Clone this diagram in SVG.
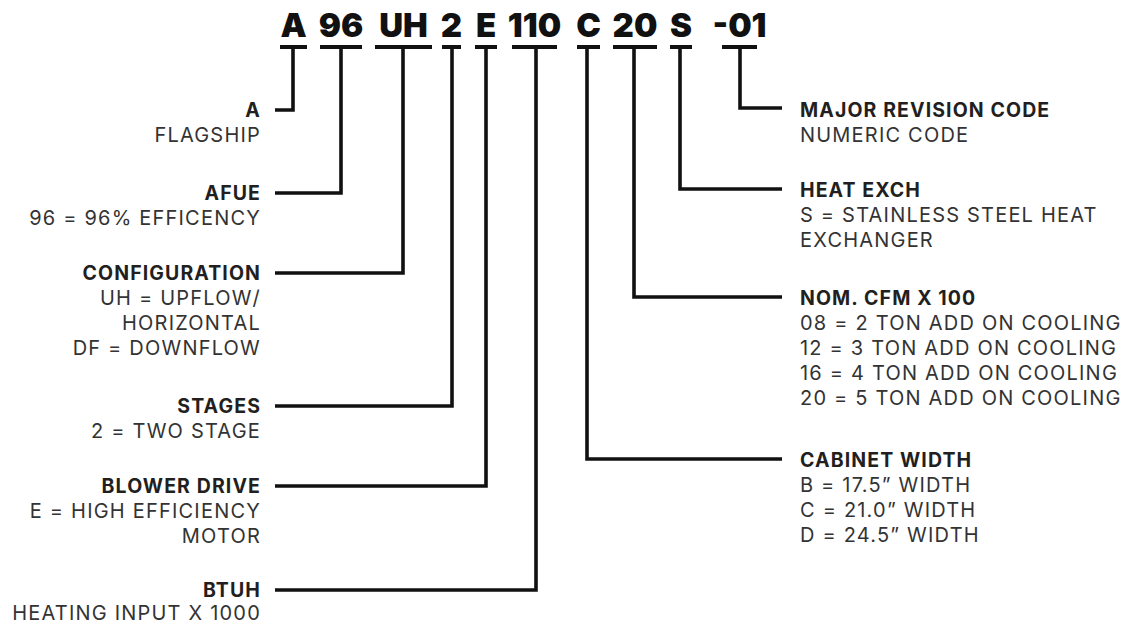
<svg xmlns="http://www.w3.org/2000/svg" width="1125" height="624" viewBox="0 0 1125 624">
<style>
  .code { font-family: Inter, "Liberation Sans", sans-serif; font-weight: 900; font-size: 33px; fill: #111; text-anchor: middle; }
  .h { font-family: Inter, "Liberation Sans", sans-serif; font-weight: 700; font-size: 19.5px; letter-spacing: 1.1px; fill: #231f20; }
  .t { font-family: Inter, "Liberation Sans", sans-serif; font-weight: 400; font-size: 20px; letter-spacing: 1.2px; fill: #333; }
  .l text { text-anchor: end; }
  .r text { text-anchor: start; }
  .conn { fill: none; stroke: #111; stroke-width: 3.6; stroke-linejoin: miter; stroke-linecap: butt; }
  .ul { fill: #111; }
</style>
<rect width="1125" height="624" fill="#ffffff"/>

<g id="code">
  <text class="code" x="293.5" y="37">A</text>
  <text class="code" x="341" y="37">96</text>
  <text class="code" x="403.5" y="37">UH</text>
  <text class="code" x="451.5" y="37">2</text>
  <text class="code" x="486" y="37">E</text>
  <text class="code" x="534.5" y="37">110</text>
  <text class="code" x="588.5" y="37">C</text>
  <text class="code" x="635" y="37">20</text>
  <text class="code" x="681" y="37">S</text>
  <text class="code" x="739.5" y="37">-01</text>
  <rect class="ul" x="280" y="45" width="27" height="4"/>
  <rect class="ul" x="320" y="45" width="42" height="4"/>
  <rect class="ul" x="375" y="45" width="57" height="4"/>
  <rect class="ul" x="442" y="45" width="19" height="4"/>
  <rect class="ul" x="475" y="45" width="22" height="4"/>
  <rect class="ul" x="512" y="45" width="45" height="4"/>
  <rect class="ul" x="577" y="45" width="23" height="4"/>
  <rect class="ul" x="613" y="45" width="44" height="4"/>
  <rect class="ul" x="670" y="45" width="22" height="4"/>
  <rect class="ul" x="722" y="45" width="35" height="4"/>
</g>

<g id="connectors">
  <path class="conn" d="M293 47 V110 H275"/>
  <path class="conn" d="M341 47 V193 H275"/>
  <path class="conn" d="M403 47 V273 H275"/>
  <path class="conn" d="M452 47 V406 H275"/>
  <path class="conn" d="M486 47 V486 H275"/>
  <path class="conn" d="M536 47 V590 H275"/>
  <path class="conn" d="M587 47 V459 H782"/>
  <path class="conn" d="M634 47 V297 H782"/>
  <path class="conn" d="M680 47 V189 H782"/>
  <path class="conn" d="M740 47 V108 H782"/>
</g>

<g id="node-a" class="l">
  <text class="h" x="261" y="117">A</text>
  <text class="t" x="261" y="142">FLAGSHIP</text>
</g>
<g id="node-afue" class="l">
  <text class="h" x="261" y="200">AFUE</text>
  <text class="t" x="261" y="225">96 = 96% EFFICENCY</text>
</g>
<g id="node-configuration" class="l">
  <text class="h" x="261" y="280">CONFIGURATION</text>
  <text class="t" x="261" y="305">UH = UPFLOW/</text>
  <text class="t" x="261" y="330">HORIZONTAL</text>
  <text class="t" x="261" y="355">DF = DOWNFLOW</text>
</g>
<g id="node-stages" class="l">
  <text class="h" x="261" y="413">STAGES</text>
  <text class="t" x="261" y="438">2 = TWO STAGE</text>
</g>
<g id="node-blower" class="l">
  <text class="h" x="261" y="493">BLOWER DRIVE</text>
  <text class="t" x="261" y="518">E = HIGH EFFICIENCY</text>
  <text class="t" x="261" y="543">MOTOR</text>
</g>
<g id="node-btuh" class="l">
  <text class="h" x="261" y="597">BTUH</text>
  <text class="t" x="261" y="620">HEATING INPUT X 1000</text>
</g>

<g id="node-revision" class="r">
  <text class="h" x="800" y="117">MAJOR REVISION CODE</text>
  <text class="t" x="800" y="142">NUMERIC CODE</text>
</g>
<g id="node-heatexch" class="r">
  <text class="h" x="800" y="197">HEAT EXCH</text>
  <text class="t" x="800" y="222">S = STAINLESS STEEL HEAT</text>
  <text class="t" x="800" y="247">EXCHANGER</text>
</g>
<g id="node-cfm" class="r">
  <text class="h" x="800" y="305">NOM. CFM X 100</text>
  <text class="t" x="800" y="330">08 = 2 TON ADD ON COOLING</text>
  <text class="t" x="800" y="355">12 = 3 TON ADD ON COOLING</text>
  <text class="t" x="800" y="380">16 = 4 TON ADD ON COOLING</text>
  <text class="t" x="800" y="405">20 = 5 TON ADD ON COOLING</text>
</g>
<g id="node-cabinet" class="r">
  <text class="h" x="800" y="467">CABINET WIDTH</text>
  <text class="t" x="800" y="492">B = 17.5” WIDTH</text>
  <text class="t" x="800" y="517">C = 21.0” WIDTH</text>
  <text class="t" x="800" y="542">D = 24.5” WIDTH</text>
</g>
</svg>
